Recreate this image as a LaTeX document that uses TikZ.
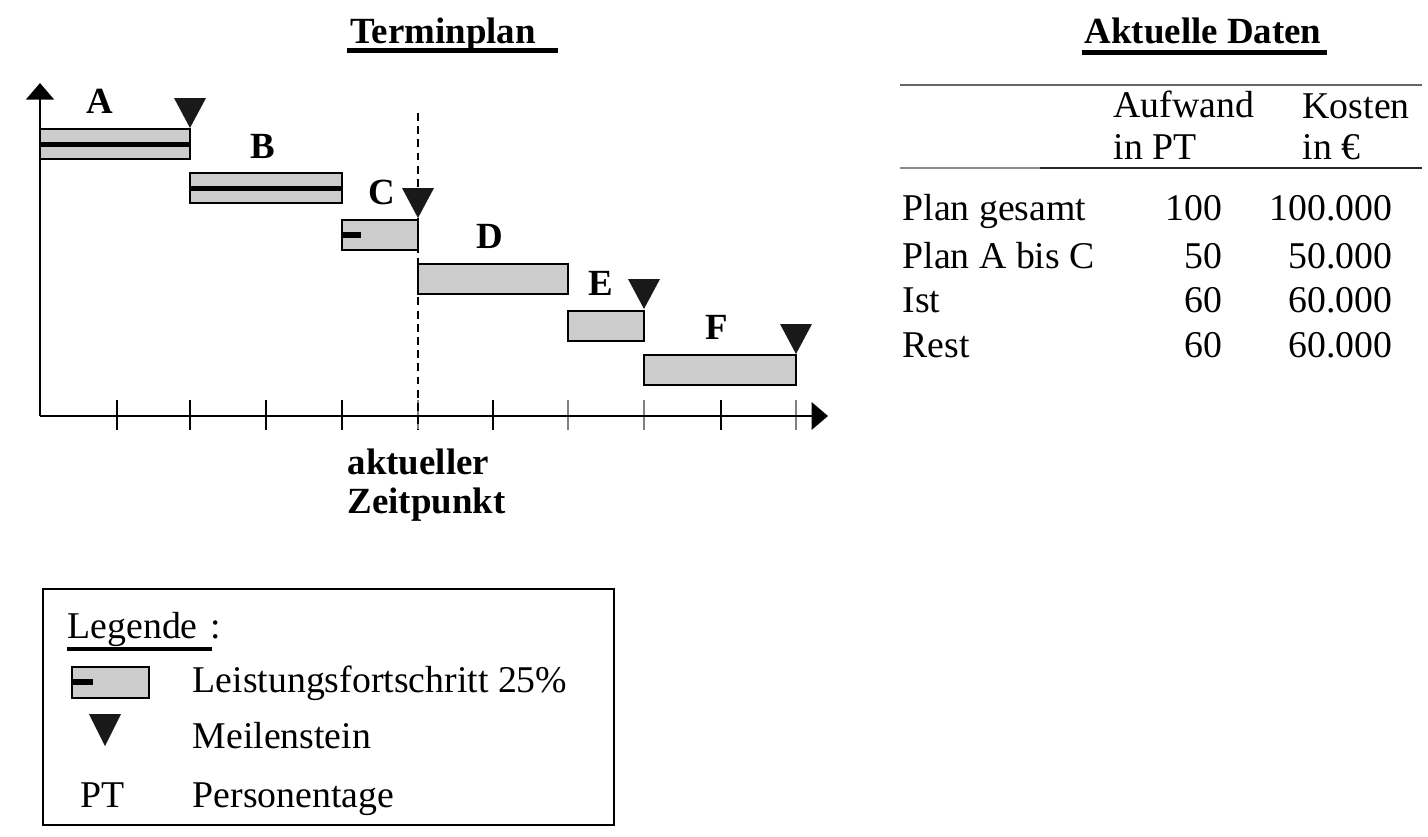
\documentclass[tikz,border=0pt]{standalone}
\usepackage{fontspec}
\setmainfont{Liberation Serif}
\usetikzlibrary{arrows.meta,positioning}

\begin{document}
\begin{tikzpicture}[x=0.02cm, y=-0.02cm, thick,
    font=\fontsize{21.5}{26}\selectfont,
    txt/.style={inner sep=0pt, anchor=base west},
    num/.style={inner sep=0pt, anchor=base east},
    task/.style={inner sep=0pt, anchor=base, font=\fontsize{21}{25}\selectfont\bfseries},
    bar/.style={draw, fill=black!20, line width=1.4pt},
    done/.style={line width=3pt},
    axis/.style={line width=1.6pt, -{Triangle[length=0.33cm, width=0.55cm]}}]
    \useasboundingbox (0,0) rectangle (1428,836);

    % Terminplan
    \node[txt, font=\fontsize{21}{25}\selectfont\bfseries] (plan) at (350,43) {Terminplan};
    \draw[line width=2.8pt] (347,50.5) -- (558,50.5);
    \foreach \x in {117,190,266,342,493,721} \draw[line width=1.3pt] (\x,400) -- (\x,430);
    \foreach \x in {418,568,644,796} \draw[line width=1.3pt, black!50] (\x,400) -- (\x,430);
    \draw[axis] (40,416) -- (40,83);
    \draw[axis] (40,416) -- (828,416);
    \draw[line width=1.6pt, dash pattern=on 4.5pt off 3pt] (418,113) -- (418,430);
    \foreach \a/\b/\y in {40/190/129, 190/342/173, 342/418/220, 418/568/264, 568/644/311, 644/796/355}
        \draw[bar] (\a,\y) rectangle (\b,\y+30);
    \draw[done] (40,144.5) -- (190,144.5);
    \draw[done] (190,188.5) -- (342,188.5);
    \draw[done] (342,235) -- (361,235);
    \foreach \x/\y in {190/128, 418/218, 644/309, 796/354}
        \fill[black!90] (\x-16,\y-30) -- (\x+16,\y-30) -- (\x,\y) -- cycle;
    \node[task] (lA) at (100,113) {A};
    \node[task] (lB) at (263,158) {B};
    \node[task] (lC) at (382,204) {C};
    \node[task] (lD) at (490,248) {D};
    \node[task] (lE) at (601,295) {E};
    \node[task] (lF) at (717,339) {F};
    \node[txt, font=\fontsize{21}{25}\selectfont\bfseries] (akt) at (347,474) {aktueller};
    \node[txt, font=\fontsize{21}{25}\selectfont\bfseries] (zeit) at (347,513) {Zeitpunkt};

    % Aktuelle Daten
    \node[txt, font=\fontsize{21}{25}\selectfont\bfseries] (daten) at (1084,43) {Aktuelle Daten};
    \draw[line width=2.8pt] (1082,52.5) -- (1327,52.5);
    \draw[black!60, line width=1.3pt] (900,85) -- (1422,85);
    \draw[black!45, line width=1.3pt] (900,168) -- (1040,168);
    \draw[black!85, line width=1.3pt] (1040,168) -- (1422,168);
    \node[txt] (aufw) at (1113,117) {Aufwand};
    \node[txt] (inpt) at (1113,159) {in PT};
    \node[txt] (kost) at (1302,118) {Kosten};
    \node[txt] (ineur) at (1302,159) {in €};
    \foreach \name/\pt/\eur/\y in {Plan gesamt/100/100.000/220, Plan A bis C/50/50.000/268,
                                   Ist/60/60.000/312, Rest/60/60.000/357} {
        \node[txt] (row\y) at (902,\y) {\name};
        \node[num] (pt\y) at (1223,\y) {\pt};
        \node[num] (eur\y) at (1393,\y) {\eur};
    }

    % Legende
    \draw[line width=1.3pt] (43,589) rectangle (614,825);
    \node[txt] (leg) at (67,638) {Legende\,\,:};
    \draw[line width=2.3pt] (67,649) -- (212,649);
    \draw[bar] (72,667) rectangle (149,698);
    \draw[done] (72,682) -- (93,682);
    \fill[black!90] (89,714) -- (121,714) -- (105,746) -- cycle;
    \node[txt] (pt) at (80,807) {PT};
    \node[txt] (lfs) at (192,692) {Leistungsfortschritt 25\%};
    \node[txt] (ms) at (192,748) {Meilenstein};
    \node[txt] (pers) at (192,807) {Personentage};
\end{tikzpicture}
\end{document}
